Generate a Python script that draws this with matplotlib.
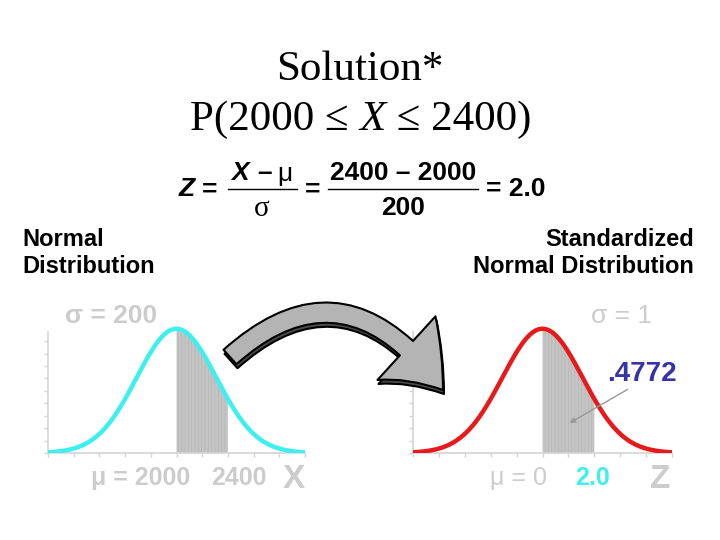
import numpy as np
import matplotlib
matplotlib.use("Agg")
import matplotlib.pyplot as plt
from matplotlib.patches import FancyArrowPatch
from matplotlib.path import Path

plt.rcParams["font.family"] = ["Liberation Sans", "DejaVu Sans"]
plt.rcParams["hatch.linewidth"] = 0.5

# distribution parameters shown on the slide
mu_x, sigma_x, x_upper = 2000, 200, 2400
mu_z, sigma_z, z_upper = 0, 1, 2.0
area_label = ".4772"

# drawing shape: curve width expressed in tick units (as drawn on the slide)
shape_sd = 1.55
n_ticks = 5  # ticks each side of the mean

light = "#cccccc"
cyan = "#3cf0f0"
red = "#e8191a"


def bell(ax, mu, step, upper, color):
    x = np.linspace(mu - n_ticks * step, mu + n_ticks * step, 400)
    y = np.exp(-0.5 * ((x - mu) / (shape_sd * step)) ** 2)
    xs = np.linspace(mu, upper, 100)
    ys = np.exp(-0.5 * ((xs - mu) / (shape_sd * step)) ** 2)
    ax.fill_between(xs, 0, ys, facecolor="#c4c4c4", edgecolor="#b6b6b6",
                    hatch="|||||", linewidth=0, zorder=1)
    ax.plot(x, y, color=color, lw=3.2, solid_capstyle="round", zorder=3)
    ax.set_xlim(mu - n_ticks * step, mu + n_ticks * step)
    ax.set_ylim(0, 1.03)
    ax.set_xticks(np.arange(mu - n_ticks * step, mu + n_ticks * step + step / 2, step))
    ax.set_yticks(np.arange(0, 0.95, 0.1))
    ax.set_xticklabels([])
    ax.set_yticklabels([])
    ax.tick_params(colors="#d4d4d4", length=3, width=1)
    for s in ["top", "right"]:
        ax.spines[s].set_visible(False)
    for s in ["left", "bottom"]:
        ax.spines[s].set_color("#d4d4d4")
        ax.spines[s].set_linewidth(1.2)
    ax.spines["left"].set_bounds(0, 0.97)
    ax.patch.set_visible(False)


fig = plt.figure(figsize=(7.2, 5.4), dpi=100)

ax1 = fig.add_axes([48 / 720, 87 / 540, 257 / 720, 128 / 540])
bell(ax1, mu_x, sigma_x, x_upper, cyan)

ax2 = fig.add_axes([413 / 720, 87 / 540, 259 / 720, 128 / 540])
bell(ax2, mu_z, sigma_z, z_upper, red)

# overlay in pixel units for slide text
ov = fig.add_axes([0, 0, 1, 1])
ov.set_xlim(0, 720)
ov.set_ylim(540, 0)
ov.axis("off")

serif = ["Liberation Serif", "DejaVu Serif"]
ov.text(360, 70, "Solution*", family=serif, fontsize=31, ha="center", va="center")

# P(...) line with italic X
fig.canvas.draw()
r = fig.canvas.get_renderer()
xpos = 190
for s, st in [("P(2000 ≤ ", "normal"), ("X", "italic"), (" ≤ 2400)", "normal")]:
    tt = ov.text(xpos, 120, s, family=serif, fontsize=31, style=st,
                 ha="left", va="center")
    xpos += tt.get_window_extent(renderer=r).width

# formula Z = (X - mu)/sigma = (2400 - 2000)/200 = 2.0
fk = dict(fontsize=19, fontweight="bold", va="center")
ov.text(187, 189, "Z", style="italic", ha="center", **fk)
ov.text(210, 190, "=", ha="center", **fk)
ov.text(240, 173, "X", style="italic", ha="center", **fk)
ov.text(265, 173, "–", ha="center", **fk)
ov.text(285, 174, "μ", fontsize=19, ha="center", va="center")
ov.plot([228, 297], [189, 189], color="black", lw=1)
ov.text(262, 209, "σ", family=serif, fontsize=21, ha="center", va="center")
ov.text(313, 190, "=", ha="center", **fk)
ov.text(403, 173, "2400 – 2000", ha="center", **fk)
ov.plot([328, 478], [189, 189], color="black", lw=1)
ov.text(403, 208, "200", ha="center", **fk)
ov.text(486, 189, "= 2.0", ha="left", **fk)

lk = dict(fontsize=17, fontweight="bold", va="center", linespacing=1.2)
ov.text(22, 253, "Normal\nDistribution", ha="left", **lk)
ov.text(694, 253, "Standardized\nNormal Distribution", ha="right", **lk)

# gray labels on the charts
ov.text(65, 316, f"σ = {sigma_x}", fontsize=19, fontweight="bold", color=light,
        ha="left", va="center")
ov.text(652, 316, f"σ = {sigma_z}", fontsize=19, color=light, ha="right",
        va="center")
ov.text(190, 478, f"μ = {mu_x}", fontsize=18, fontweight="bold", color=light,
        ha="right", va="center")
ov.text(239, 478, f"{x_upper}", fontsize=18, fontweight="bold", color=light,
        ha="center", va="center")
ov.text(294, 480, "X", fontsize=24, fontweight="bold", color=light,
        ha="center", va="center")
ov.text(547, 478, f"μ = {mu_z}", fontsize=18, color=light, ha="right",
        va="center")
ov.text(593, 478, f"{z_upper:.1f}", fontsize=18, fontweight="bold", color=cyan,
        ha="center", va="center")
ov.text(660, 480, "Z", fontsize=24, fontweight="bold", color=light,
        ha="center", va="center")

# area label and pointer
ov.text(642, 374, area_label, fontsize=20, fontweight="bold", color="#3434a8",
        ha="center", va="center")
ax2.annotate("", xy=(0.95, 0.23), xycoords="data", xytext=(630, 388),
             textcoords=ov.transData,
             arrowprops=dict(arrowstyle="-|>", color="#999999", lw=1,
                             mutation_scale=8), zorder=6)

# curved block arrow with shadow
style = "simple,tail_width=14,head_width=62,head_length=40"
for off, fc, z in [((1, 4), "#4a4a4a", 4), ((0, 0), "#b4b4b4", 5)]:
    dx, dy = off
    p = Path([(230 + dx, 357 + dy), (345 + dx, 254 + dy), (443 + dx, 390 + dy)],
             [Path.MOVETO, Path.CURVE3, Path.CURVE3])
    arr = FancyArrowPatch(path=p, arrowstyle=style, mutation_scale=1,
                          facecolor=fc, edgecolor="black", lw=1.5, zorder=z,
                          transform=ov.transData)
    ov.add_patch(arr)

fig.savefig("out.png", dpi=100)
